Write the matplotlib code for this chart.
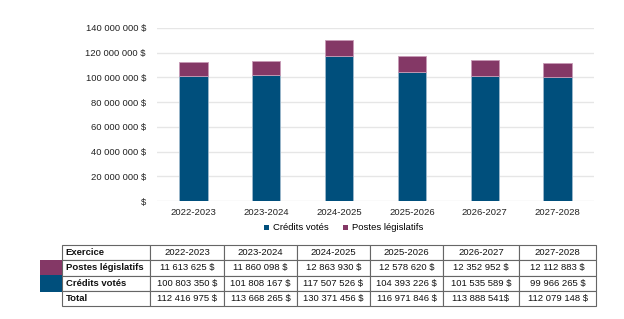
import numpy as np
import matplotlib
matplotlib.use("Agg")
import matplotlib.pyplot as plt
from matplotlib.patches import Rectangle

plt.rcParams['font.family'] = ['Liberation Sans', 'DejaVu Sans']

exercices = ["2022-2023", "2023-2024", "2024-2025", "2025-2026", "2026-2027", "2027-2028"]
postes_legislatifs = [11613625, 11860098, 12863930, 12578620, 12352952, 12112883]
credits_votes = [100803350, 101808167, 117507526, 104393226, 101535589, 99966265]
totaux = [112416975, 113668265, 130371456, 116971846, 113888541, 112079148]
total_labels = ["112 416 975 $", "113 668 265 $", "130 371 456 $",
                "116 971 846 $", "113 888 541$", "112 079 148 $"]
y_ticks = [0, 20000000, 40000000, 60000000, 80000000, 100000000, 120000000, 140000000]

BLUE = "#004F7C"
PURPLE = "#843866"
W, H = 624, 319
FS = 6.8


def money(v):
    if v == 0:
        return "$"
    return f"{v:,}".replace(",", " ") + " $"


fig = plt.figure(figsize=(W / 100, H / 100), dpi=100)
ax = fig.add_axes([157 / W, 1 - 201 / H, (594 - 157) / W, (201 - 28) / H])

x = np.arange(len(exercices))
ax.bar(x, credits_votes, width=0.39, color=BLUE, edgecolor="#9DB8CC", linewidth=0.6,
       label="Crédits votés", zorder=3)
ax.bar(x, postes_legislatifs, bottom=credits_votes, width=0.39, color=PURPLE,
       edgecolor="#C79AB6", linewidth=0.6, label="Postes législatifs", zorder=3)

ax.set_xlim(-0.5, len(exercices) - 0.5)
ax.set_ylim(0, 140000000)
ax.set_yticks(y_ticks)
ax.set_yticklabels([money(v) for v in y_ticks])
ax.set_xticks(x)
ax.set_xticklabels(exercices)
ax.tick_params(axis="both", length=0, labelsize=FS, colors="#222222")
ax.tick_params(axis="y", pad=8)
ax.tick_params(axis="x", pad=5)
ax.grid(axis="y", color="#E6E6E6", linewidth=1, zorder=0)
for s in ax.spines.values():
    s.set_visible(False)

leg = ax.legend(loc="center", bbox_to_anchor=(0.428, -0.156), ncol=2, frameon=False,
                fontsize=FS, handlelength=0.45, handleheight=0.45, handletextpad=0.5,
                columnspacing=1.5, borderpad=0, borderaxespad=0)
for h in leg.legend_handles:
    h.set_edgecolor("none")

# data table
tab_ax = fig.add_axes([62 / W, 1 - 306 / H, (596 - 62) / W, (306 - 245) / H])
tab_ax.axis("off")
rows = [["Exercice"] + exercices,
        ["Postes législatifs"] + [money(v) for v in postes_legislatifs],
        ["Crédits votés"] + [money(v) for v in credits_votes],
        ["Total"] + total_labels]
col_px = [88, 74, 73, 73, 73, 76, 77]
col_w = [c / sum(col_px) for c in col_px]
tbl = tab_ax.table(cellText=rows, colWidths=col_w, bbox=[0, 0, 1, 1], cellLoc="center")
tbl.auto_set_font_size(False)
for (r, c), cell in tbl.get_celld().items():
    cell.set_edgecolor("#666666")
    cell.set_linewidth(0.8)
    cell.get_text().set_fontsize(FS)
    cell.get_text().set_color("#111111")
    if c == 0:
        cell.get_text().set_fontweight("bold")
        cell.get_text().set_ha("left")
        cell._loc = "left"
        cell.PAD = 0.04

fig.add_artist(Rectangle((40 / W, 1 - 275 / H), 22 / W, 15 / H, transform=fig.transFigure,
                         facecolor=PURPLE, edgecolor="none"))
fig.add_artist(Rectangle((40 / W, 1 - 292 / H), 22 / W, 17 / H, transform=fig.transFigure,
                         facecolor=BLUE, edgecolor="none"))

fig.savefig("out.png", dpi=100, facecolor="white")
